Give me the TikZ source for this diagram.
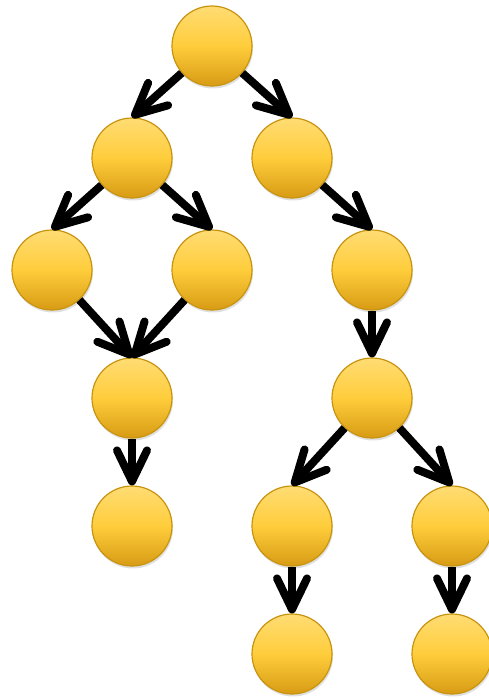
\documentclass[tikz,border=0pt]{standalone}
\usetikzlibrary{arrows.meta,shadows}
\definecolor{ctop}{RGB}{255,220,115}
\definecolor{cmid}{RGB}{255,205,60}
\definecolor{cbot}{RGB}{215,155,20}
\definecolor{cedge}{RGB}{200,148,15}
\tikzset{
  ball/.style={circle, minimum size=80pt, inner sep=0pt, draw=cedge, line width=1.2pt,
    top color=ctop, bottom color=cbot, middle color=cmid,
    drop shadow={opacity=0.25, shadow xshift=1pt, shadow yshift=-2.5pt}},
  link/.style={line width=8pt, black, -{Straight Barb[length=31pt,width=30pt,round]},
    preaction={draw=black, draw opacity=0.12, transform canvas={xshift=1pt,yshift=-3pt}}}
}
\begin{document}
\begin{tikzpicture}[x=1pt,y=-1pt]
\useasboundingbox (0,0) rectangle (488,698);
\node[ball] (a) at (212,46) {};
\node[ball] (b) at (132,158) {};
\node[ball] (c) at (292,158) {};
\node[ball] (d) at (52,270) {};
\node[ball] (e) at (212,270) {};
\node[ball] (f) at (372,270) {};
\node[ball] (g) at (132,398) {};
\node[ball] (h) at (372,398) {};
\node[ball] (i) at (132,526) {};
\node[ball] (j) at (292,526) {};
\node[ball] (k) at (452,526) {};
\node[ball] (l) at (292,654) {};
\node[ball] (m) at (452,654) {};
\draw[link] (a) -- (b.north);
\draw[link] (a) -- (c.north);
\draw[link] (b) -- (d.north);
\draw[link] (b) -- (e.north);
\draw[link] (c) -- (f.north);
\draw[link] (d) -- (g.north);
\draw[link] (e) -- (g.north);
\draw[link] (f) -- (h.north);
\draw[link] (g) -- (i.north);
\draw[link] (h) -- (j.north);
\draw[link] (h) -- (k.north);
\draw[link] (j) -- (l.north);
\draw[link] (k) -- (m.north);
\end{tikzpicture}
\end{document}
